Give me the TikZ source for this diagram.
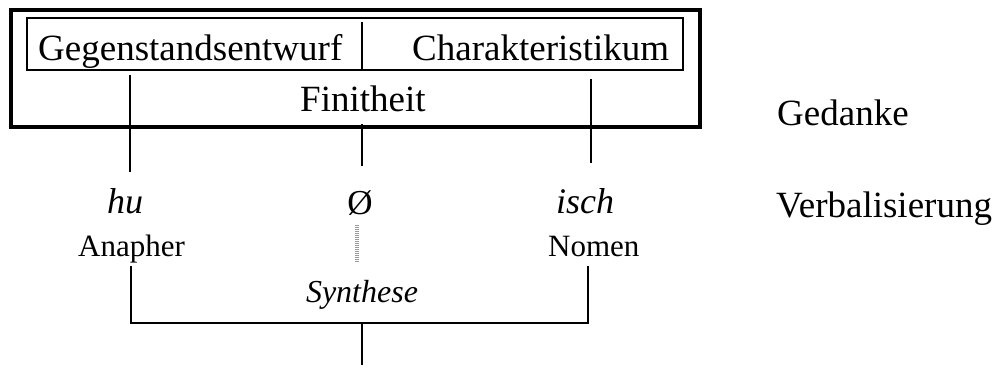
\documentclass[tikz,border=0pt]{standalone}
\usepackage{fontspec}
\setmainfont{Liberation Serif}
\begin{document}
\begin{tikzpicture}[x=1pt,y=-1pt,
  big/.style={anchor=base west,inner sep=0pt,font=\fontsize{37}{40}\selectfont},
  mid/.style={anchor=base west,inner sep=0pt,font=\fontsize{36}{40}\selectfont\itshape},
  small/.style={anchor=base west,inner sep=0pt,font=\fontsize{31}{36}\selectfont},
  syn/.style={anchor=base,inner sep=0pt,font=\fontsize{32}{36}\selectfont\itshape},
  thin/.style={line width=1.5pt},
  stem/.style={line width=2pt},
  frame/.style={line width=4pt},
  grayline/.style={draw=gray!80,line width=3.5pt,dash pattern=on 1pt off 1pt}]
\useasboundingbox (0,0) rectangle (1001,367);
% outer frame
\coordinate (o1) at (11,10); \coordinate (o2) at (700,127);
\draw[frame] (o1) rectangle (o2);
% inner box
\coordinate (i1) at (27,18); \coordinate (i2) at (683,70);
\draw[thin] (i1) rectangle (i2);
\coordinate (d1) at (362,22); \coordinate (d2) at (362,70);
\draw[thin] (d1) -- (d2);
\node[big] (geg) at (38,60) {Gegenstandsentwurf};
\node[big] (cha) at (412,60) {Charakteristikum};
\node[big] (fin) at (300,111) {Finitheit};
\node[big] (ged) at (777,125) {Gedanke};
\node[big] (ver) at (776,217) {Verbalisierung};
% stems from the frame
\coordinate (l1) at (130,75); \coordinate (l2) at (130,172);
\coordinate (m1) at (362,124); \coordinate (m2) at (362,166);
\coordinate (r1) at (591,79); \coordinate (r2) at (591,163);
\draw[stem] (l1) -- (l2);
\draw[stem] (m1) -- (m2);
\draw[stem] (r1) -- (r2);
% verbalisation
\node[mid] (hu) at (107,213) {hu};
\node[anchor=base,inner sep=0pt,font=\fontsize{35}{40}\selectfont] (null) at (360,214) {Ø};
\node[mid] (isch) at (556,213) {isch};
\node[small] (ana) at (78,256) {Anapher};
\node[small] (nom) at (548,256) {Nomen};
\coordinate (g1) at (357,225); \coordinate (g2) at (357,262);
\draw[grayline] (g1) -- (g2);
% synthesis bracket
\node[syn] (syn) at (362,302) {Synthese};
\coordinate (b1) at (131,266); \coordinate (b2) at (131,323);
\coordinate (b3) at (588,323); \coordinate (b4) at (588,266);
\coordinate (b5) at (362,323); \coordinate (b6) at (362,365);
\draw[stem] (b1) -- (b2) -- (b3) -- (b4);
\draw[stem] (b5) -- (b6);
\end{tikzpicture}
\end{document}
